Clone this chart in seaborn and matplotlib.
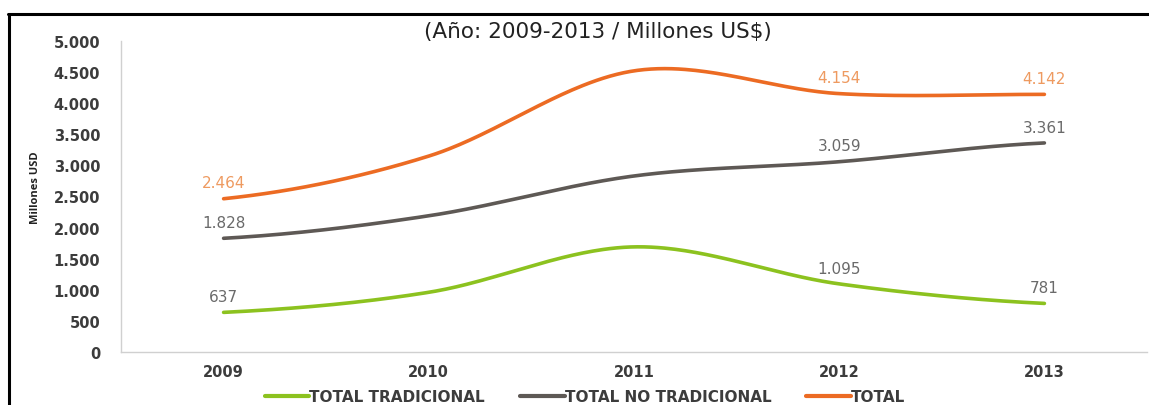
import numpy as np
import pandas as pd
import matplotlib
matplotlib.use("Agg")
import matplotlib.pyplot as plt
from matplotlib.lines import Line2D
import seaborn as sns

years = ["2009", "2010", "2011", "2012", "2013"]
tradicional = [637, 960, 1690, 1095, 781]
no_tradicional = [1828, 2190, 2830, 3059, 3361]
total = [2464, 3150, 4520, 4154, 4142]
series_names = ["TOTAL TRADICIONAL", "TOTAL NO TRADICIONAL", "TOTAL"]
label_years = ["2009", "2012", "2013"]
yticks = [0, 500, 1000, 1500, 2000, 2500, 3000, 3500, 4000, 4500, 5000]

colors = {"TOTAL TRADICIONAL": "#8cc21f", "TOTAL NO TRADICIONAL": "#5e5955", "TOTAL": "#ec6b23"}
label_colors = {"TOTAL TRADICIONAL": "#6a6a6a", "TOTAL NO TRADICIONAL": "#6a6a6a", "TOTAL": "#ee9a60"}

sns.set_theme(style="white")
plt.rcParams["font.family"] = ["DejaVu Sans"]


def smooth(vals, n=60):
    """Excel-like smooth line (uniform Catmull-Rom through the data points)."""
    p = np.asarray(vals, dtype=float)
    ext = np.concatenate([[p[0]], p, [p[-1]]])
    xs, ys = [], []
    for i in range(len(p) - 1):
        p0, p1, p2, p3 = ext[i], ext[i + 1], ext[i + 2], ext[i + 3]
        m1 = (p2 - p0) / 2.0
        m2 = (p3 - p1) / 2.0
        t = np.linspace(0, 1, n, endpoint=(i == len(p) - 2))
        h00 = 2 * t**3 - 3 * t**2 + 1
        h10 = t**3 - 2 * t**2 + t
        h01 = -2 * t**3 + 3 * t**2
        h11 = t**3 - t**2
        ys.append(h00 * p1 + h10 * m1 + h01 * p2 + h11 * m2)
        xs.append(i + t)
    return np.concatenate(xs), np.concatenate(ys)


data = {"TOTAL TRADICIONAL": tradicional, "TOTAL NO TRADICIONAL": no_tradicional, "TOTAL": total}
frames = []
for name in series_names:
    xx, yy = smooth(data[name])
    frames.append(pd.DataFrame({"x": xx, "value": yy, "serie": name}))
df = pd.concat(frames, ignore_index=True)

fig = plt.figure(figsize=(11.49, 4.06), dpi=100)
ax = fig.add_axes([121 / 1149, 53 / 406, 1026 / 1149, 311 / 406])

sns.lineplot(data=df, x="x", y="value", hue="serie", hue_order=series_names,
             palette=colors, linewidth=2.6, ax=ax, sort=False, estimator=None)

ax.set_xlim(-0.5, 4.5)
ax.set_ylim(0, 5000)
ax.set_xticks(range(len(years)))
ax.set_xticklabels(years, fontsize=10.5, fontweight="bold", color="#3c3c3c")
ax.set_yticks(yticks)
ax.set_yticklabels([f"{v:,}".replace(",", ".") for v in yticks],
                   fontsize=10.5, fontweight="bold", color="#3c3c3c")
ax.tick_params(axis="y", pad=15, length=0)
ax.tick_params(axis="x", pad=9, length=0)
ax.set_xlabel("")
ax.set_ylabel("")
for s in ["top", "right"]:
    ax.spines[s].set_visible(False)
for s in ["left", "bottom"]:
    ax.spines[s].set_color("#d0d0d0")
    ax.spines[s].set_linewidth(1.0)

fig.text(35 / 1149, 1 - 188 / 406, "Millones USD", rotation=90, ha="center", va="center",
         fontsize=8, fontweight="bold", color="#222222", family="Open Sans")

# data labels
for name in series_names:
    vals = data[name]
    for yr in label_years:
        i = years.index(yr)
        v = vals[i]
        ax.annotate(f"{v:,}".replace(",", "."), (i, v), xytext=(0, 6),
                    textcoords="offset points", ha="center", va="bottom",
                    fontsize=11, color=label_colors[name])

fig.text(598 / 1149, 1 - 32 / 406, "(Año: 2009-2013 / Millones US$)",
         ha="center", va="center", fontsize=15.5, color="#222222")

leg = ax.get_legend()
if leg is not None:
    leg.remove()
handles = [Line2D([0], [0], color=colors[n], lw=3) for n in series_names]
fig.legend(handles, series_names, loc="center", bbox_to_anchor=(585 / 1149, 1 - 398 / 406),
           ncol=3, frameon=False, handlelength=2.9, handletextpad=0.0, columnspacing=2.3,
           prop={"size": 11, "weight": "bold"}, labelcolor="#3c3c3c")

# black frame lines (top and left)
fig.add_artist(Line2D([8 / 1149, 1.0], [1 - 14.5 / 406, 1 - 14.5 / 406],
                      transform=fig.transFigure, color="black", lw=2.2))
fig.add_artist(Line2D([8.5 / 1149, 8.5 / 1149], [0, 1 - 14.5 / 406],
                      transform=fig.transFigure, color="black", lw=2.2))

fig.savefig("out.png", dpi=100)
